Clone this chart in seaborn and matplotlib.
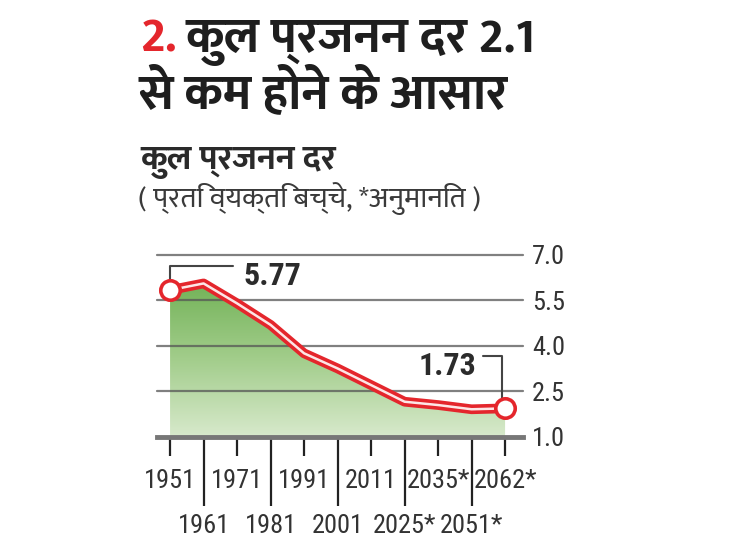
import numpy as np
import matplotlib
matplotlib.use('Agg')
import matplotlib.pyplot as plt
from matplotlib import font_manager
from matplotlib.colors import LinearSegmentedColormap
import seaborn as sns

# data
years = ['1951', '1961', '1971', '1981', '1991', '2001', '2011',
         '2025*', '2035*', '2051*', '2062*']
tfr = [5.84, 6.06, 5.40, 4.69, 3.75, 3.25, 2.70, 2.15, 2.04, 1.90, 1.93]
callouts = ['5.77', '1.73']
yticks = [1.0, 2.5, 4.0, 5.5, 7.0]

title_num = '2.'
title_1 = 'कुल प्रजनन दर 2.1'
title_2 = 'से कम होने के आसार'
subtitle = 'कुल प्रजनन दर'
note = '( प्रति व्यक्ति बच्चे, *अनुमानित )'

fonts = font_manager.fontManager.ttflist
def pick(names, bold=False):
    for n in names:
        for f in fonts:
            if f.name == n and (not bold or f.weight in (700, 'bold')):
                return n
    return 'DejaVu Sans'

hindi = pick(['Mukta', 'Hind', 'Yantramanav', 'Noto Sans Devanagari'], bold=True)
numf = pick(['Roboto Condensed', 'PT Sans Narrow', 'Open Sans Condensed', 'Noto Sans'])

sns.set_style('white')
plt.rcParams['font.family'] = [numf, hindi, 'DejaVu Sans']

red = '#e4262c'
dark = '#222222'

fig = plt.figure(figsize=(7.3, 5.48), dpi=100)
W, H = 730, 548
ax = fig.add_axes([157 / W, 1 - 436.5 / H, (523.5 - 157) / W, (436.5 - 255) / H])

x = np.arange(len(years))

# gradient fill under the line
poly = ax.fill_between(x, tfr, 1.0, color='none', lw=0)
grad = LinearSegmentedColormap.from_list('g', ['#d7e9cb', '#a2cd8b', '#72b257'])
img = ax.imshow(np.linspace(0, 1, 256).reshape(-1, 1), cmap=grad, origin='lower',
                extent=[x[0], x[-1], 1.0, 6.1], aspect='auto', zorder=1)
img.set_clip_path(poly.get_paths()[0], transform=ax.transData)
ax.set_xlim(-0.39, 10.55)
ax.set_ylim(1.0, 7.0)

for v in yticks[1:]:
    ax.axhline(v, color='#555555', lw=1.6, alpha=0.75, zorder=2, clip_on=False)

sns.lineplot(x=x, y=tfr, ax=ax, color=red, lw=7, zorder=4,
             solid_joinstyle='round', solid_capstyle='round')
sns.lineplot(x=x, y=tfr, ax=ax, color='#fde6e6', lw=1.8, zorder=5)
ends = [0, len(x) - 1]
ax.plot(x[ends], np.array(tfr)[ends], 'o', ms=14, mfc='white', mec=red, mew=2.6,
        zorder=7, clip_on=False)

# callout brackets
ax.plot([0, 0, 1.87], [tfr[0], 6.64, 6.64], color='#444444', lw=1.5, zorder=3,
        clip_on=False)
ax.text(2.2, 6.3, callouts[0], fontsize=23, fontweight='bold', color='#2b2b2b',
        va='center', ha='left')
ax.plot([9.35, 9.92, 9.92], [3.67, 3.67, tfr[-1]], color='#444444', lw=1.5,
        zorder=3, clip_on=False)
ax.text(9.15, 3.34, callouts[1], fontsize=23, fontweight='bold', color='#2b2b2b',
        va='center', ha='right')

# axes styling
for s in ['top', 'left', 'right']:
    ax.spines[s].set_visible(False)
ax.spines['bottom'].set_color('#777777')
ax.spines['bottom'].set_linewidth(3.5)
ax.spines['bottom'].set_zorder(6)

ax.yaxis.tick_right()
ax.set_yticks(yticks, labels=['%.1f' % v for v in yticks])
ax.tick_params(axis='y', length=0, pad=6, labelsize=19, labelcolor='#333333')

ax.set_xticks(x[::2], labels=years[::2])
ax.set_xticks(x[1::2], labels=years[1::2], minor=True)
ax.tick_params(axis='x', which='both', bottom=True, direction='out')
ax.tick_params(axis='x', which='major', length=14, width=1.6, color=dark, pad=9.5,
               labelsize=19, labelcolor='#333333')
ax.tick_params(axis='x', which='minor', length=50, width=1.6, color=dark, pad=6,
               labelsize=19, labelcolor='#333333')
ax.set_xlabel('')
ax.set_ylabel('')

# titles
hf = [hindi, 'DejaVu Sans']
t1 = fig.text(140 / W, 1 - 52 / H, title_num, color=red, fontsize=36,
              fontweight='bold', family=hf, va='baseline')
fig.canvas.draw()
bb = t1.get_window_extent()
fig.text((bb.x1 + 9) / W, 1 - 52 / H, title_1, color='#1e1e1e', fontsize=36,
         fontweight='bold', family=hf, va='baseline')
fig.text(138 / W, 1 - 108 / H, title_2, color='#1e1e1e', fontsize=36,
         fontweight='bold', family=hf, va='baseline')
fig.text(140 / W, 1 - 169 / H, subtitle, color='#2a2a2a', fontsize=25,
         fontweight='bold', family=hf, va='baseline')
fig.text(138 / W, 1 - 207 / H, note, color='#3a3a3a', fontsize=21,
         family=hf, va='baseline')

fig.savefig('out.png', dpi=100)
